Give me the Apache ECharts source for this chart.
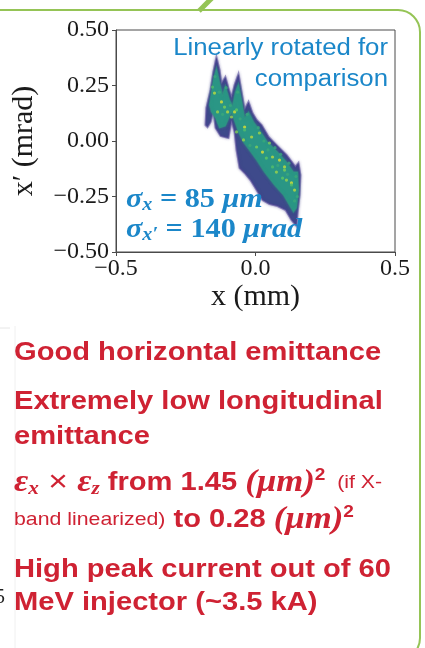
<!DOCTYPE html>
<html>
<head>
<meta charset="utf-8">
<script src="https://cdn.jsdelivr.net/npm/echarts@6/dist/echarts.min.js"></script>
<style>
  html, body { margin: 0; padding: 0; background: #ffffff; }
  #chart { width: 425px; height: 648px; }
</style>
</head>
<body>
<div id="chart"></div>
<script>
// Transverse phase space of the bunch: x in mm, x' in mrad.
// Outer edge of the particle cloud (traced around the sawtooth filaments).
const beamEdge = [
  [-0.179, 0.072], [-0.176, 0.149], [-0.161, 0.230], [-0.151, 0.311], [-0.140, 0.378],
  [-0.129, 0.320], [-0.122, 0.257], [-0.108, 0.288], [-0.097, 0.239], [-0.086, 0.194],
  [-0.075, 0.252], [-0.061, 0.302], [-0.050, 0.221], [-0.039, 0.140], [-0.025, 0.176],
  [-0.011, 0.126], [0.004, 0.095], [0.022, 0.072], [0.047, 0.018], [0.079, -0.023],
  [0.111, -0.063], [0.133, -0.099], [0.143, -0.117], [0.154, -0.099], [0.161, -0.153],
  [0.158, -0.243], [0.151, -0.320], [0.147, -0.383], [0.129, -0.356], [0.108, -0.311],
  [0.079, -0.293], [0.050, -0.284], [0.025, -0.266], [0.004, -0.221], [-0.018, -0.176],
  [-0.039, -0.144], [-0.057, -0.122], [-0.068, -0.041], [-0.075, 0.041], [-0.086, 0.095],
  [-0.097, 0.014], [-0.125, 0.023], [-0.143, 0.059], [-0.151, 0.140], [-0.161, 0.086],
  [-0.172, 0.063]
];

// Denser core of the distribution.
const beamCore = [
  [-0.165, 0.162], [-0.151, 0.275], [-0.140, 0.329], [-0.129, 0.266], [-0.118, 0.207],
  [-0.108, 0.248], [-0.093, 0.185], [-0.082, 0.158], [-0.072, 0.221], [-0.061, 0.257],
  [-0.050, 0.185], [-0.039, 0.104], [-0.025, 0.131], [-0.007, 0.086], [0.014, 0.050],
  [0.043, -0.005], [0.079, -0.050], [0.111, -0.095], [0.136, -0.140], [0.151, -0.140],
  [0.154, -0.221], [0.147, -0.302], [0.136, -0.320], [0.100, -0.243], [0.068, -0.198],
  [0.032, -0.140], [0.004, -0.086], [-0.022, -0.041], [-0.043, -0.005], [-0.061, 0.041],
  [-0.086, 0.131], [-0.108, 0.068], [-0.129, 0.059], [-0.143, 0.104], [-0.158, 0.131]
];

// Local density peaks: [x, x', relative density]
const hotSpots = [
  [-0.154, 0.243, 0.70], [-0.147, 0.216, 0.90], [-0.136, 0.131, 0.85], [-0.122, 0.176, 0.95],
  [-0.111, 0.153, 0.80], [-0.100, 0.131, 0.90], [-0.086, 0.108, 0.85], [-0.075, 0.131, 0.95],
  [-0.068, 0.140, 0.75], [-0.068, 0.041, 0.80], [-0.043, 0.005, 0.85], [-0.039, 0.063, 0.95],
  [-0.039, 0.050, 0.70], [-0.014, 0.018, 0.90], [0.004, -0.027, 0.80], [0.014, 0.036, 0.85],
  [0.025, -0.050, 0.95], [0.039, -0.077, 0.75], [0.050, -0.009, 0.80], [0.061, -0.072, 0.90],
  [0.061, -0.117, 0.70], [0.075, -0.140, 0.85], [0.086, -0.086, 0.95], [0.097, -0.167, 0.75],
  [0.104, -0.117, 0.90], [0.104, -0.131, 0.80], [0.111, -0.176, 0.85], [0.129, -0.189, 0.95],
  [0.129, -0.198, 0.70], [0.140, -0.221, 0.90],
  [-0.145, 0.290, 0.60], [-0.130, 0.220, 0.60], [-0.105, 0.240, 0.60], [-0.118, 0.120, 0.60],
  [-0.090, 0.160, 0.60], [-0.064, 0.220, 0.60], [-0.055, 0.100, 0.60], [-0.030, 0.120, 0.60],
  [-0.020, -0.020, 0.60], [0.010, 0.060, 0.60], [0.030, 0.000, 0.60], [0.045, -0.040, 0.60],
  [0.070, -0.030, 0.60], [0.090, -0.060, 0.60], [0.080, -0.110, 0.60], [0.120, -0.100, 0.60],
  [0.115, -0.150, 0.60], [0.145, -0.160, 0.60], [0.140, -0.270, 0.60], [0.150, -0.250, 0.60]
];

const xTicks = [-0.5, 0.0, 0.5];
const yTicks = [-0.50, -0.25, 0.00, 0.25, 0.50];

const RED = '#cf2233';
const BLUE = '#1b87c9';
const GREEN = '#95c456';
const SERIF = 'Liberation Serif';
const SANS = 'Liberation Sans';
const STRETCH = 1.12;

function fmt(v, digits) {
  const s = Math.abs(v).toFixed(digits);
  return v < 0 ? '\u2212' + s : s;
}

function polygonSeries(points, style, z) {
  return {
    type: 'custom',
    coordinateSystem: 'cartesian2d',
    silent: true,
    clip: true,
    z: z,
    data: [points[0]],
    renderItem: function (params, api) {
      return {
        type: 'polygon',
        shape: { points: points.map(function (p) { return api.coord(p); }) },
        style: style
      };
    }
  };
}

function txt(x, y, text, style, extra) {
  return Object.assign({
    type: 'text', x: x, y: y, scaleX: STRETCH, z: 10,
    style: Object.assign({ text: text, verticalAlign: 'middle', align: 'left' }, style)
  }, extra || {});
}

const mathRich = {
  m:   { fontFamily: SERIF, fontStyle: 'italic', fontWeight: 'bold', fontSize: 31, fill: RED, lineHeight: 32 },
  sub: { fontFamily: SERIF, fontStyle: 'italic', fontWeight: 'bold', fontSize: 19, fill: RED, lineHeight: 17, verticalAlign: 'bottom' },
  op:  { fontFamily: SANS, fontSize: 30, fill: RED, lineHeight: 32 },
  b:   { fontFamily: SANS, fontWeight: 'bold', fontSize: 26, fill: RED, lineHeight: 32 },
  sup: { fontFamily: SANS, fontWeight: 'bold', fontSize: 17, fill: RED, lineHeight: 17, verticalAlign: 'top' },
  s:   { fontFamily: SANS, fontSize: 19, fill: RED, lineHeight: 32 }
};

const sigmaRich = {
  m:   { fontFamily: SERIF, fontStyle: 'italic', fontWeight: 'bold', fontSize: 27, fill: BLUE, lineHeight: 28 },
  sub: { fontFamily: SERIF, fontStyle: 'italic', fontWeight: 'bold', fontSize: 18, fill: BLUE, lineHeight: 15, verticalAlign: 'bottom' },
  n:   { fontFamily: SERIF, fontWeight: 'bold', fontSize: 27, fill: BLUE, lineHeight: 28 }
};

const boldRed = { fontFamily: SANS, fontWeight: 'bold', fontSize: 26, fill: RED };

const chart = echarts.init(document.getElementById('chart'), null, { renderer: 'canvas' });

chart.setOption({
  backgroundColor: '#ffffff',
  animation: false,
  grid: {
    left: 116, top: 30, width: 279, height: 222,
    show: true, borderColor: '#4a4a4a', borderWidth: 1, backgroundColor: 'transparent'
  },
  xAxis: {
    type: 'value',
    min: xTicks[0], max: xTicks[xTicks.length - 1], interval: 0.5,
    name: 'x (mm)', nameLocation: 'middle', nameGap: 26,
    nameTextStyle: { fontFamily: SERIF, fontSize: 30, color: '#1a1a1a' },
    axisLine: { show: true, onZero: false, lineStyle: { color: '#4a4a4a', width: 1 } },
    axisTick: { show: true, inside: false, length: 4, lineStyle: { color: '#4a4a4a' } },
    axisLabel: {
      margin: 5, fontFamily: SERIF, fontSize: 24, color: '#1a1a1a',
      formatter: function (v) { return fmt(v, 1); }
    },
    splitLine: { show: false }
  },
  yAxis: {
    type: 'value',
    min: yTicks[0], max: yTicks[yTicks.length - 1], interval: 0.25,
    name: 'x\u2032 (mrad)', nameLocation: 'middle', nameGap: 77, nameRotate: 90,
    nameTextStyle: { fontFamily: SERIF, fontSize: 30, color: '#1a1a1a' },
    axisLine: { show: true, onZero: false, lineStyle: { color: '#4a4a4a', width: 1 } },
    axisTick: { show: true, inside: false, length: 4, lineStyle: { color: '#4a4a4a' } },
    axisLabel: {
      margin: 7, fontFamily: SERIF, fontSize: 24, color: '#1a1a1a',
      formatter: function (v) { return fmt(v, 2); }
    },
    splitLine: { show: false }
  },
  visualMap: {
    show: false, type: 'continuous', seriesIndex: 2, dimension: 2, min: 0, max: 1,
    inRange: { color: ['#440154', '#3b528b', '#21918c', '#5ec962', '#fde725'] }
  },
  series: [
    polygonSeries(beamEdge, {
      fill: '#3e4a8b', stroke: 'rgba(80,70,150,0.55)', lineWidth: 2,
      shadowBlur: 3, shadowColor: 'rgba(70,60,140,0.6)'
    }, 2),
    polygonSeries(beamCore, {
      fill: '#2a9685', stroke: 'rgba(50,150,130,0.5)', lineWidth: 1.5,
      shadowBlur: 3, shadowColor: 'rgba(40,150,130,0.6)'
    }, 3),
    {
      type: 'scatter', z: 4, silent: true,
      symbol: 'circle', symbolSize: 3.2,
      data: hotSpots
    }
  ],
  graphic: [
    // slide frame
    { type: 'rect', z: 0, silent: true,
      shape: { x: -20, y: 10, width: 440, height: 650, r: 22 },
      style: { fill: 'transparent', stroke: GREEN, lineWidth: 2 } },
    { type: 'line', z: 0, silent: true,
      shape: { x1: 199, y1: 11, x2: 213, y2: -3 },
      style: { stroke: GREEN, lineWidth: 5 } },
    { type: 'line', z: 0, silent: true,
      shape: { x1: 15, y1: 326, x2: 15, y2: 648 },
      style: { stroke: '#f0f0f0', lineWidth: 1 } },
    { type: 'line', z: 0, silent: true,
      shape: { x1: 0, y1: 328, x2: 10, y2: 328 },
      style: { stroke: '#e6e6e6', lineWidth: 1 } },
    { type: 'text', x: 5, y: 598, z: 10,
      style: { text: '5', fontFamily: SERIF, fontSize: 20, fill: '#222', align: 'right', verticalAlign: 'middle' } },

    // annotations inside the plot
    txt(388, 49, 'Linearly rotated for', { fontFamily: SANS, fontSize: 23, fill: BLUE, align: 'right' }),
    txt(388, 80, 'comparison', { fontFamily: SANS, fontSize: 23, fill: BLUE, align: 'right' }),
    txt(126, 200, '{m|\u03c3}{sub|x}{n| = 85 }{m|\u03bcm}', { rich: sigmaRich }),
    txt(126, 230, '{m|\u03c3}{sub|x\u2032}{n| = 140 }{m|\u03bcrad}', { rich: sigmaRich }),

    // bullet text
    txt(14, 353, 'Good horizontal emittance', boldRed),
    txt(14, 402, 'Extremely low longitudinal', boldRed),
    txt(14, 437, 'emittance', boldRed),
    txt(14, 483, '{m|\u03b5}{sub|x}{op| \u00d7 }{m|\u03b5}{sub|z}{b| from 1.45 }{m|(\u03bcm)}{sup|2}{s|  (if X-}', { rich: mathRich }),
    txt(14, 520, '{s|band linearized)}{b| to 0.28 }{m|(\u03bcm)}{sup|2}', { rich: mathRich }),
    txt(14, 570, 'High peak current out of 60', boldRed),
    txt(14, 603, 'MeV injector (~3.5 kA)', boldRed)
  ]
});
</script>
</body>
</html>
